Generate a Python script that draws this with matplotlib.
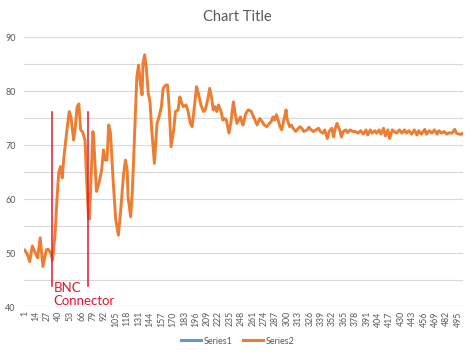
import matplotlib
matplotlib.use("Agg")
import matplotlib.pyplot as plt
from matplotlib.lines import Line2D

# ---- data ----
cats = [1, 4, 7, 10, 13, 16, 19, 22, 26, 28, 31, 33, 36, 38, 40, 42, 44, 46, 49, 52, 54, 57,
        59, 61, 63, 65, 67, 70, 72, 74, 75, 79, 80, 83, 86, 89, 91, 93, 95, 97, 99, 102, 105,
        108, 111, 114, 116, 118, 119, 122, 124, 127, 129, 131, 133, 135, 136, 138, 140, 142,
        144, 146, 149, 152, 154, 157, 159, 162, 164, 166, 168, 171, 173, 176, 178, 180, 182,
        185, 187, 190, 192, 195, 197, 199, 202, 205, 207, 210, 212, 214, 216, 218, 220, 222,
        225, 227, 229, 231, 234, 236, 239, 241, 243, 245, 247, 249, 250, 253, 256, 259, 262,
        264, 266, 269, 272, 274, 277, 280, 282, 284, 286, 288, 290, 292, 294, 296, 299, 300,
        303, 305, 307, 310, 313, 315, 317, 319, 323, 325, 327, 330, 333, 336, 338, 341, 343,
        346, 348, 351, 353, 355, 357, 360, 362, 364, 367, 369, 372, 375, 378, 381, 384, 387,
        390, 392, 395, 397, 400, 402, 405, 407, 410, 412, 415, 417, 420, 422, 425, 428, 431,
        434, 436, 439, 442, 445, 448, 450, 453, 457, 459, 462, 465, 468, 471, 473, 476, 479,
        482, 485, 488, 491, 493, 496, 499, 500]
series2 = [50.6, 49.9, 48.4, 51.3, 50.2, 49.1, 52.8, 47.5, 50.6, 50.7, 50.0, 48.7, 53.7, 59.8,
           64.8, 66.0, 63.9, 67.8, 72.2, 76.2, 75.2, 70.9, 73.4, 77.1, 77.6, 72.8, 72.5, 70.9,
           63.0, 56.5, 56.3, 72.5, 70.9, 61.4, 63.0, 65.4, 69.1, 67.2, 67.2, 73.7, 72.2, 63.5,
           56.1, 53.3, 58.6, 64.8, 67.2, 65.4, 60.4, 56.7, 61.7, 74.0, 82.6, 84.8, 81.4, 79.3,
           85.1, 86.7, 83.9, 79.6, 78.0, 72.8, 66.6, 74.0, 75.0, 77.1, 80.5, 81.1, 81.1, 76.5,
           69.7, 72.8, 76.2, 76.5, 78.9, 77.8, 77.1, 77.4, 76.5, 74.0, 73.4, 77.7, 80.8, 79.6,
           77.4, 76.2, 76.5, 78.6, 80.5, 78.9, 76.5, 77.1, 76.2, 77.4, 76.2, 74.6, 74.9, 74.6,
           72.2, 74.0, 78.0, 75.8, 74.0, 74.6, 75.2, 74.0, 73.7, 75.8, 76.5, 76.3, 75.2, 74.5,
           73.7, 74.9, 74.3, 73.7, 73.4, 74.0, 74.3, 75.2, 74.6, 75.6, 74.6, 73.4, 72.8, 74.3,
           76.5, 74.9, 73.4, 73.7, 73.1, 72.5, 73.1, 73.4, 73.1, 72.5, 72.8, 73.3, 72.9, 72.5,
           72.8, 73.1, 72.5, 72.2, 72.8, 71.2, 72.5, 73.1, 71.5, 73.1, 74.0, 72.8, 71.5, 72.5,
           72.8, 72.3, 72.8, 72.5, 72.5, 72.2, 72.65, 72.0, 72.8, 71.85, 72.8, 72.2, 72.65,
           72.2, 72.8, 72.0, 73.1, 71.7, 72.8, 71.2, 72.8, 72.5, 72.2, 72.8, 72.2, 72.8, 72.2,
           72.65, 72.0, 72.8, 71.85, 72.65, 72.0, 72.9, 72.0, 72.65, 72.2, 72.8, 72.0, 72.65,
           72.2, 72.5, 72.0, 72.3, 72.2, 72.9, 72.2, 72.0, 72.0, 72.2]
series1 = []
n_cats = 500
xtick_labels = list(range(1, 500, 13))
annot_x = [32, 73]
annot_y = (43.8, 76.2)
annot_text = "BNC\nConnector"

# ---- figure ----
plt.rcParams['font.family'] = ['Lato', 'DejaVu Sans']
fig = plt.figure(figsize=(4.74, 3.56), dpi=100)
ax = fig.add_axes([24/474, 1-307/356, (463-24)/474, (307-37)/356])

ax.set_xlim(0.5, n_cats + 0.5)
ax.set_ylim(40, 90)

for v in range(45, 91, 5):
    ax.axhline(v, color='#D9D9D9', lw=0.8, zorder=0)
ax.axhline(40, color='#D9D9D9', lw=1.0, zorder=0)

ax.plot(series1, series1, color='#5B9BD5', lw=2.2, label='Series1')
ax.plot(cats, series2, color='#ED7D31', lw=2.1, solid_joinstyle='round',
        solid_capstyle='round', label='Series2', zorder=3)

for xv in annot_x:
    ax.plot([xv, xv], list(annot_y), color='#E3172E', lw=1.1, zorder=4, clip_on=False)
ax.text(annot_x[0] + 2, 44.6, annot_text, color='#E3172E', fontsize=9.5,
        va='top', ha='left', linespacing=1.05, zorder=5, clip_on=False)

for s in ax.spines.values():
    s.set_visible(False)

ax.set_yticks(range(40, 91, 10))
ax.set_yticklabels([str(v) for v in range(40, 91, 10)], fontsize=6.5, color='#595959')
ax.set_xticks(xtick_labels)
ax.set_xticklabels([str(v) for v in xtick_labels], rotation=90, fontsize=6.3, color='#595959')
ax.tick_params(axis='y', length=0, pad=6)
ax.tick_params(axis='x', length=0, pad=3)

fig.text(237/474, 1-17/356, 'Chart Title', ha='center', va='center', fontsize=10.5, color='#595959')

handles = [Line2D([], [], color='#5B9BD5', lw=2.2), Line2D([], [], color='#ED7D31', lw=2.2)]
fig.legend(handles, ['Series1', 'Series2'], loc='center', bbox_to_anchor=(238/474, 1-341/356),
           ncol=2, frameon=False, fontsize=6.5, labelcolor='#595959', handlelength=2.2,
           handletextpad=0.3, columnspacing=1.2)

fig.savefig('out.png', dpi=100)
